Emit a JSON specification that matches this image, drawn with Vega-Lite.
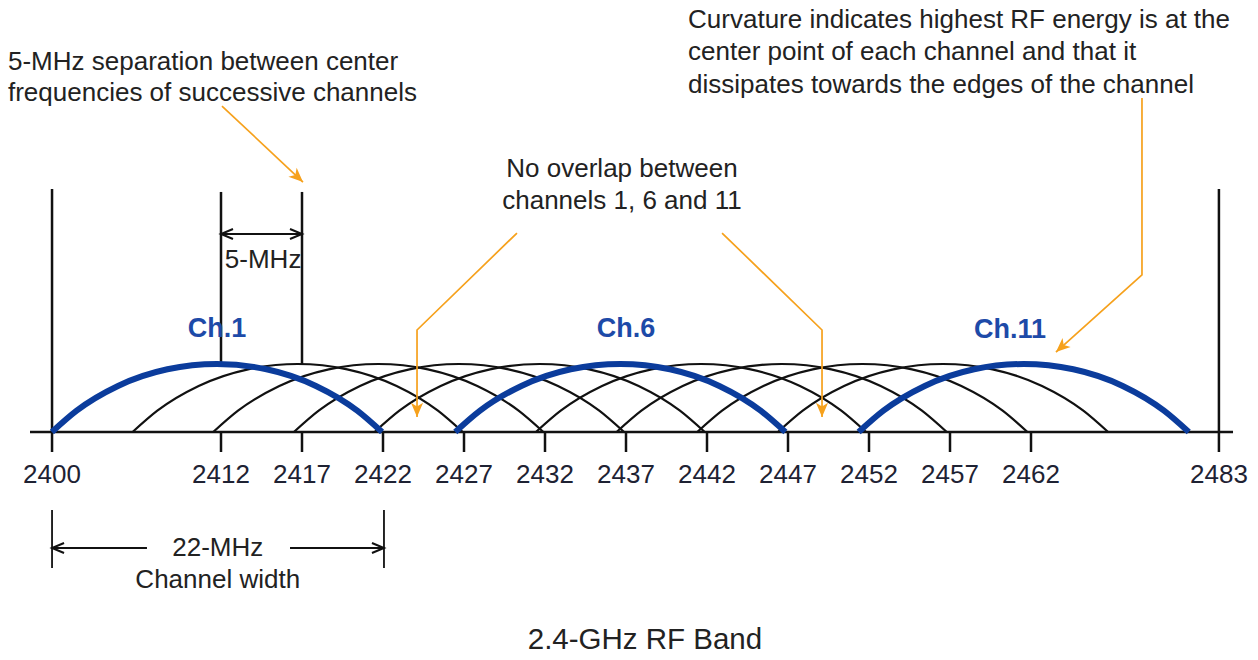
{
  "$schema": "https://vega.github.io/schema/vega-lite/v6.json",
  "width": 1258,
  "height": 660,
  "padding": 0,
  "autosize": {"type": "none"},
  "background": "white",
  "config": {"view": {"stroke": null}, "font": "Liberation Sans"},
  "datasets": {
    "arcs": [
      {"ch":1,"f":2401.56,"e":0},{"ch":1,"f":2403.09,"e":0.314},{"ch":1,"f":2405.64,"e":0.677},{"ch":1,"f":2408.69,"e":0.922},{"ch":1,"f":2411.75,"e":1},{"ch":1,"f":2414.81,"e":0.922},{"ch":1,"f":2417.86,"e":0.677},{"ch":1,"f":2420.41,"e":0.314},{"ch":1,"f":2421.94,"e":0},
      {"ch":2,"f":2406.54,"e":0},{"ch":2,"f":2408.07,"e":0.314},{"ch":2,"f":2410.62,"e":0.677},{"ch":2,"f":2413.67,"e":0.922},{"ch":2,"f":2416.73,"e":1},{"ch":2,"f":2419.79,"e":0.922},{"ch":2,"f":2422.84,"e":0.677},{"ch":2,"f":2425.39,"e":0.314},{"ch":2,"f":2426.92,"e":0},
      {"ch":3,"f":2411.52,"e":0},{"ch":3,"f":2413.05,"e":0.314},{"ch":3,"f":2415.60,"e":0.677},{"ch":3,"f":2418.65,"e":0.922},{"ch":3,"f":2421.71,"e":1},{"ch":3,"f":2424.77,"e":0.922},{"ch":3,"f":2427.82,"e":0.677},{"ch":3,"f":2430.37,"e":0.314},{"ch":3,"f":2431.90,"e":0},
      {"ch":4,"f":2416.50,"e":0},{"ch":4,"f":2418.03,"e":0.314},{"ch":4,"f":2420.58,"e":0.677},{"ch":4,"f":2423.63,"e":0.922},{"ch":4,"f":2426.69,"e":1},{"ch":4,"f":2429.75,"e":0.922},{"ch":4,"f":2432.80,"e":0.677},{"ch":4,"f":2435.35,"e":0.314},{"ch":4,"f":2436.88,"e":0},
      {"ch":5,"f":2421.48,"e":0},{"ch":5,"f":2423.01,"e":0.314},{"ch":5,"f":2425.56,"e":0.677},{"ch":5,"f":2428.61,"e":0.922},{"ch":5,"f":2431.67,"e":1},{"ch":5,"f":2434.73,"e":0.922},{"ch":5,"f":2437.78,"e":0.677},{"ch":5,"f":2440.33,"e":0.314},{"ch":5,"f":2441.86,"e":0},
      {"ch":6,"f":2426.46,"e":0},{"ch":6,"f":2427.99,"e":0.314},{"ch":6,"f":2430.54,"e":0.677},{"ch":6,"f":2433.59,"e":0.922},{"ch":6,"f":2436.65,"e":1},{"ch":6,"f":2439.71,"e":0.922},{"ch":6,"f":2442.76,"e":0.677},{"ch":6,"f":2445.31,"e":0.314},{"ch":6,"f":2446.84,"e":0},
      {"ch":7,"f":2431.44,"e":0},{"ch":7,"f":2432.97,"e":0.314},{"ch":7,"f":2435.52,"e":0.677},{"ch":7,"f":2438.57,"e":0.922},{"ch":7,"f":2441.63,"e":1},{"ch":7,"f":2444.69,"e":0.922},{"ch":7,"f":2447.74,"e":0.677},{"ch":7,"f":2450.29,"e":0.314},{"ch":7,"f":2451.82,"e":0},
      {"ch":8,"f":2436.42,"e":0},{"ch":8,"f":2437.95,"e":0.314},{"ch":8,"f":2440.50,"e":0.677},{"ch":8,"f":2443.55,"e":0.922},{"ch":8,"f":2446.61,"e":1},{"ch":8,"f":2449.67,"e":0.922},{"ch":8,"f":2452.72,"e":0.677},{"ch":8,"f":2455.27,"e":0.314},{"ch":8,"f":2456.80,"e":0},
      {"ch":9,"f":2441.40,"e":0},{"ch":9,"f":2442.93,"e":0.314},{"ch":9,"f":2445.48,"e":0.677},{"ch":9,"f":2448.53,"e":0.922},{"ch":9,"f":2451.59,"e":1},{"ch":9,"f":2454.65,"e":0.922},{"ch":9,"f":2457.70,"e":0.677},{"ch":9,"f":2460.25,"e":0.314},{"ch":9,"f":2461.78,"e":0},
      {"ch":10,"f":2446.38,"e":0},{"ch":10,"f":2447.91,"e":0.314},{"ch":10,"f":2450.46,"e":0.677},{"ch":10,"f":2453.51,"e":0.922},{"ch":10,"f":2456.57,"e":1},{"ch":10,"f":2459.63,"e":0.922},{"ch":10,"f":2462.68,"e":0.677},{"ch":10,"f":2465.23,"e":0.314},{"ch":10,"f":2466.76,"e":0},
      {"ch":11,"f":2451.36,"e":0},{"ch":11,"f":2452.89,"e":0.314},{"ch":11,"f":2455.44,"e":0.677},{"ch":11,"f":2458.49,"e":0.922},{"ch":11,"f":2461.55,"e":1},{"ch":11,"f":2464.61,"e":0.922},{"ch":11,"f":2467.66,"e":0.677},{"ch":11,"f":2470.21,"e":0.314},{"ch":11,"f":2471.74,"e":0}
    ]
  },
  "layer": [
    {
      "data": {"values": [{"f": 2400.21, "f2": 2474.47, "e": 0}]},
      "mark": {"type": "rule", "stroke": "#111", "strokeWidth": 2.5},
      "encoding": {
        "x": {"field": "f", "type": "quantitative", "scale": {"domain": [2398.358, 2476.012], "nice": false, "zero": false}, "axis": null},
        "x2": {"field": "f2"},
        "y": {"field": "e", "type": "quantitative", "scale": {"domain": [-3.353, 6.353], "nice": false, "zero": false}, "axis": null}
      }
    },
    {
      "data": {"values": [
        {"f": 2401.57, "e": -0.294, "e2": 3.574},
        {"f": 2473.6, "e": -0.294, "e2": 3.574},
        {"f": 2412, "e": 0.99, "e2": 3.53},
        {"f": 2417, "e": 0.99, "e2": 3.53},
        {"f": 2412, "e": -0.294, "e2": 0},
        {"f": 2417, "e": -0.294, "e2": 0},
        {"f": 2422, "e": -0.294, "e2": 0},
        {"f": 2427, "e": -0.294, "e2": 0},
        {"f": 2432, "e": -0.294, "e2": 0},
        {"f": 2437, "e": -0.294, "e2": 0},
        {"f": 2442, "e": -0.294, "e2": 0},
        {"f": 2447, "e": -0.294, "e2": 0},
        {"f": 2452, "e": -0.294, "e2": 0},
        {"f": 2457, "e": -0.294, "e2": 0},
        {"f": 2462, "e": -0.294, "e2": 0}
      ]},
      "mark": {"type": "rule", "stroke": "#111", "strokeWidth": 2.5},
      "encoding": {
        "x": {"field": "f", "type": "quantitative", "scale": {"domain": [2398.358, 2476.012], "nice": false, "zero": false}, "axis": null},
        "y": {"field": "e", "type": "quantitative", "scale": {"domain": [-3.353, 6.353], "nice": false, "zero": false}, "axis": null},
        "y2": {"field": "e2"}
      }
    },
    {
      "data": {"name": "arcs"},
      "transform": [{"filter": "datum.ch != 1 && datum.ch != 6 && datum.ch != 11"}],
      "mark": {"type": "line", "interpolate": "monotone", "stroke": "#111", "strokeWidth": 2.2},
      "encoding": {
        "x": {"field": "f", "type": "quantitative", "scale": {"domain": [2398.358, 2476.012], "nice": false, "zero": false}, "axis": null},
        "y": {"field": "e", "type": "quantitative", "scale": {"domain": [-3.353, 6.353], "nice": false, "zero": false}, "axis": null},
        "detail": {"field": "ch", "type": "nominal"}
      }
    },
    {
      "data": {"name": "arcs"},
      "transform": [{"filter": "datum.ch == 1 || datum.ch == 6 || datum.ch == 11"}],
      "mark": {"type": "line", "interpolate": "monotone", "stroke": "#0b3c9c", "strokeWidth": 6},
      "encoding": {
        "x": {"field": "f", "type": "quantitative", "scale": {"domain": [2398.358, 2476.012], "nice": false, "zero": false}, "axis": null},
        "y": {"field": "e", "type": "quantitative", "scale": {"domain": [-3.353, 6.353], "nice": false, "zero": false}, "axis": null},
        "detail": {"field": "ch", "type": "nominal"}
      }
    },
    {
      "data": {"values": [
        {"f": 2412, "f2": 2417, "e": 2.912},
        {"f": 2401.57, "f2": 2407.43, "e": -1.706},
        {"f": 2416.26, "f2": 2422.06, "e": -1.706}
      ]},
      "mark": {"type": "rule", "stroke": "#111", "strokeWidth": 1.8},
      "encoding": {
        "x": {"field": "f", "type": "quantitative", "scale": {"domain": [2398.358, 2476.012], "nice": false, "zero": false}, "axis": null},
        "x2": {"field": "f2"},
        "y": {"field": "e", "type": "quantitative", "scale": {"domain": [-3.353, 6.353], "nice": false, "zero": false}, "axis": null}
      }
    },
    {
      "data": {"values": [
        {"f": 2401.57, "e": -1.147, "e2": -2.0},
        {"f": 2422.06, "e": -1.147, "e2": -2.0}
      ]},
      "mark": {"type": "rule", "stroke": "#111", "strokeWidth": 1.8},
      "encoding": {
        "x": {"field": "f", "type": "quantitative", "scale": {"domain": [2398.358, 2476.012], "nice": false, "zero": false}, "axis": null},
        "y": {"field": "e", "type": "quantitative", "scale": {"domain": [-3.353, 6.353], "nice": false, "zero": false}, "axis": null},
        "y2": {"field": "e2"}
      }
    },
    {
      "data": {"values": [{"f": 2412, "e": 2.912}, {"f": 2401.57, "e": -1.706}]},
      "mark": {"type": "point", "shape": "M-0.5,-1.2L0,0L0.5,-1.2", "size": 400, "angle": 90, "filled": false, "stroke": "#111", "strokeWidth": 2, "opacity": 1},
      "encoding": {
        "x": {"field": "f", "type": "quantitative", "scale": {"domain": [2398.358, 2476.012], "nice": false, "zero": false}, "axis": null},
        "y": {"field": "e", "type": "quantitative", "scale": {"domain": [-3.353, 6.353], "nice": false, "zero": false}, "axis": null}
      }
    },
    {
      "data": {"values": [{"f": 2417, "e": 2.912}, {"f": 2422.06, "e": -1.706}]},
      "mark": {"type": "point", "shape": "M-0.5,-1.2L0,0L0.5,-1.2", "size": 400, "angle": 270, "filled": false, "stroke": "#111", "strokeWidth": 2, "opacity": 1},
      "encoding": {
        "x": {"field": "f", "type": "quantitative", "scale": {"domain": [2398.358, 2476.012], "nice": false, "zero": false}, "axis": null},
        "y": {"field": "e", "type": "quantitative", "scale": {"domain": [-3.353, 6.353], "nice": false, "zero": false}, "axis": null}
      }
    },
    {
      "data": {"values": [
        {"id": "a1", "k": 0, "f": 2412.06, "e": 4.794},
        {"id": "a1", "k": 1, "f": 2417.06, "e": 3.676},
        {"id": "a2", "k": 0, "f": 2430.27, "e": 2.926},
        {"id": "a2", "k": 1, "f": 2424.10, "e": 1.5},
        {"id": "a2", "k": 2, "f": 2424.10, "e": 0.221},
        {"id": "a3", "k": 0, "f": 2442.93, "e": 2.926},
        {"id": "a3", "k": 1, "f": 2449.10, "e": 1.5},
        {"id": "a3", "k": 2, "f": 2449.10, "e": 0.221},
        {"id": "a4", "k": 0, "f": 2468.85, "e": 4.912},
        {"id": "a4", "k": 1, "f": 2468.85, "e": 2.309},
        {"id": "a4", "k": 2, "f": 2463.54, "e": 1.176}
      ]},
      "mark": {"type": "line", "stroke": "#f6a11c", "strokeWidth": 1.7},
      "encoding": {
        "x": {"field": "f", "type": "quantitative", "scale": {"domain": [2398.358, 2476.012], "nice": false, "zero": false}, "axis": null},
        "y": {"field": "e", "type": "quantitative", "scale": {"domain": [-3.353, 6.353], "nice": false, "zero": false}, "axis": null},
        "detail": {"field": "id", "type": "nominal"},
        "order": {"field": "k", "type": "quantitative"}
      }
    },
    {
      "data": {"values": [{"f": 2424.10, "e": 0.221}, {"f": 2449.10, "e": 0.221}]},
      "mark": {"type": "point", "shape": "M0,0L-0.55,-1.3L0,-0.95L0.55,-1.3Z", "size": 484, "angle": 0, "filled": true, "fill": "#f6a11c", "opacity": 1},
      "encoding": {
        "x": {"field": "f", "type": "quantitative", "scale": {"domain": [2398.358, 2476.012], "nice": false, "zero": false}, "axis": null},
        "y": {"field": "e", "type": "quantitative", "scale": {"domain": [-3.353, 6.353], "nice": false, "zero": false}, "axis": null}
      }
    },
    {
      "data": {"values": [{"f": 2417.06, "e": 3.676}]},
      "mark": {"type": "point", "shape": "M0,0L-0.55,-1.3L0,-0.95L0.55,-1.3Z", "size": 484, "angle": 313, "filled": true, "fill": "#f6a11c", "opacity": 1},
      "encoding": {
        "x": {"field": "f", "type": "quantitative", "scale": {"domain": [2398.358, 2476.012], "nice": false, "zero": false}, "axis": null},
        "y": {"field": "e", "type": "quantitative", "scale": {"domain": [-3.353, 6.353], "nice": false, "zero": false}, "axis": null}
      }
    },
    {
      "data": {"values": [{"f": 2463.54, "e": 1.176}]},
      "mark": {"type": "point", "shape": "M0,0L-0.55,-1.3L0,-0.95L0.55,-1.3Z", "size": 484, "angle": 48, "filled": true, "fill": "#f6a11c", "opacity": 1},
      "encoding": {
        "x": {"field": "f", "type": "quantitative", "scale": {"domain": [2398.358, 2476.012], "nice": false, "zero": false}, "axis": null},
        "y": {"field": "e", "type": "quantitative", "scale": {"domain": [-3.353, 6.353], "nice": false, "zero": false}, "axis": null}
      }
    },
    {
      "data": {"values": [
        {"t": "5-MHz separation between center", "f": 2398.85, "e": 5.441},
        {"t": "frequencies of successive channels", "f": 2398.85, "e": 4.985},
        {"t": "Curvature indicates highest RF energy is at the", "f": 2440.83, "e": 6.059},
        {"t": "center point of each channel and that it", "f": 2440.83, "e": 5.588},
        {"t": "dissipates towards the edges of the channel", "f": 2440.83, "e": 5.103}
      ]},
      "mark": {"type": "text", "align": "left", "baseline": "middle", "fontSize": 26, "fill": "#222"},
      "encoding": {
        "x": {"field": "f", "type": "quantitative", "scale": {"domain": [2398.358, 2476.012], "nice": false, "zero": false}, "axis": null},
        "y": {"field": "e", "type": "quantitative", "scale": {"domain": [-3.353, 6.353], "nice": false, "zero": false}, "axis": null},
        "text": {"field": "t"}
      }
    },
    {
      "data": {"values": [
        {"t": "No overlap between", "f": 2436.75, "e": 3.868},
        {"t": "channels 1, 6 and 11", "f": 2436.75, "e": 3.397},
        {"t": "5-MHz", "f": 2414.6, "e": 2.529},
        {"t": "22-MHz", "f": 2411.8, "e": -1.706},
        {"t": "Channel width", "f": 2411.8, "e": -2.176}
      ]},
      "mark": {"type": "text", "align": "center", "baseline": "middle", "fontSize": 26, "fill": "#222"},
      "encoding": {
        "x": {"field": "f", "type": "quantitative", "scale": {"domain": [2398.358, 2476.012], "nice": false, "zero": false}, "axis": null},
        "y": {"field": "e", "type": "quantitative", "scale": {"domain": [-3.353, 6.353], "nice": false, "zero": false}, "axis": null},
        "text": {"field": "t"}
      }
    },
    {
      "data": {"values": [
        {"t": "2400", "f": 2401.57, "e": -0.632},
        {"t": "2412", "f": 2412, "e": -0.632},
        {"t": "2417", "f": 2417, "e": -0.632},
        {"t": "2422", "f": 2422, "e": -0.632},
        {"t": "2427", "f": 2427, "e": -0.632},
        {"t": "2432", "f": 2432, "e": -0.632},
        {"t": "2437", "f": 2437, "e": -0.632},
        {"t": "2442", "f": 2442, "e": -0.632},
        {"t": "2447", "f": 2447, "e": -0.632},
        {"t": "2452", "f": 2452, "e": -0.632},
        {"t": "2457", "f": 2457, "e": -0.632},
        {"t": "2462", "f": 2462, "e": -0.632},
        {"t": "2483", "f": 2473.6, "e": -0.632}
      ]},
      "mark": {"type": "text", "align": "center", "baseline": "middle", "fontSize": 26, "fill": "#1e2233"},
      "encoding": {
        "x": {"field": "f", "type": "quantitative", "scale": {"domain": [2398.358, 2476.012], "nice": false, "zero": false}, "axis": null},
        "y": {"field": "e", "type": "quantitative", "scale": {"domain": [-3.353, 6.353], "nice": false, "zero": false}, "axis": null},
        "text": {"field": "t"}
      }
    },
    {
      "data": {"values": [
        {"t": "Ch.1", "f": 2411.75, "e": 1.515},
        {"t": "Ch.6", "f": 2437.0, "e": 1.515},
        {"t": "Ch.11", "f": 2460.7, "e": 1.5}
      ]},
      "mark": {"type": "text", "align": "center", "baseline": "middle", "fontSize": 27, "fontWeight": "bold", "fill": "#1d4aa8"},
      "encoding": {
        "x": {"field": "f", "type": "quantitative", "scale": {"domain": [2398.358, 2476.012], "nice": false, "zero": false}, "axis": null},
        "y": {"field": "e", "type": "quantitative", "scale": {"domain": [-3.353, 6.353], "nice": false, "zero": false}, "axis": null},
        "text": {"field": "t"}
      }
    },
    {
      "data": {"values": [{"t": "2.4-GHz RF Band", "f": 2438.17, "e": -3.059}]},
      "mark": {"type": "text", "align": "center", "baseline": "middle", "fontSize": 29.5, "fill": "#222"},
      "encoding": {
        "x": {"field": "f", "type": "quantitative", "scale": {"domain": [2398.358, 2476.012], "nice": false, "zero": false}, "axis": null},
        "y": {"field": "e", "type": "quantitative", "scale": {"domain": [-3.353, 6.353], "nice": false, "zero": false}, "axis": null},
        "text": {"field": "t"}
      }
    }
  ]
}
